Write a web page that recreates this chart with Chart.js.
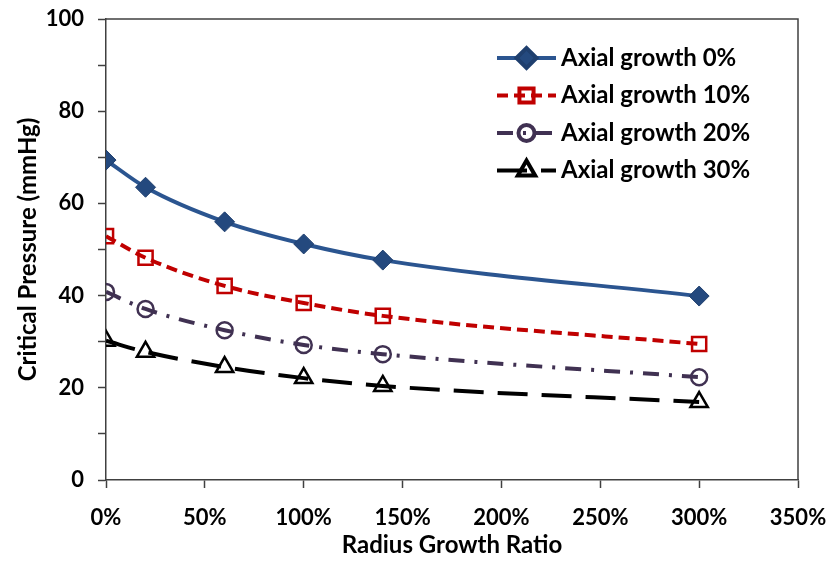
<!DOCTYPE html>
<html>
<head>
<meta charset="utf-8">
<title>Critical Pressure vs Radius Growth Ratio</title>
<script src="https://cdn.jsdelivr.net/npm/chart.js@4/dist/chart.umd.min.js"></script>
<style>
  html, body { margin: 0; padding: 0; background: #fff; }
  #grafico { display: block; }
</style>
</head>
<body>
<canvas id="grafico" width="830" height="562"></canvas>
<script>
// --- 1. DATI ---
const radiusGrowth = [0, 20, 60, 100, 140, 300]; // percentuale
const axial0  = [69.4, 63.5, 56.0, 51.2, 47.7, 39.9];
const axial10 = [52.9, 48.2, 42.1, 38.4, 35.6, 29.5];
const axial20 = [40.8, 37.1, 32.5, 29.3, 27.3, 22.3];
const axial30 = [30.2, 27.8, 24.5, 22.1, 20.4, 16.9];
const seriesLabels = ['Axial growth 0%', 'Axial growth 10%', 'Axial growth 20%', 'Axial growth 30%'];
const xTicks = [0, 50, 100, 150, 200, 250, 300, 350];
const yTicks = [0, 20, 40, 60, 80, 100];

const FONT = "Lato, 'Open Sans', sans-serif";

function punti(valori) {
  return radiusGrowth.map((x, i) => ({ x: x, y: valori[i] }));
}

// --- 2. PLUGIN: cornice + legenda dentro il grafico ---
const cornice = {
  id: 'cornice',
  beforeDatasetsDraw(chart) {
    const { ctx, chartArea: a } = chart;
    ctx.save();
    ctx.strokeStyle = '#404040';
    ctx.lineWidth = 1.5;
    ctx.beginPath();
    ctx.moveTo(a.left, a.top);
    ctx.lineTo(a.right, a.top);
    ctx.lineTo(a.right, a.bottom);
    ctx.stroke();
    ctx.restore();
  }
};

const legendaInterna = {
  id: 'legendaInterna',
  afterDraw(chart) {
    const { ctx, chartArea: a } = chart;
    const x0 = a.left + 391;
    const x1 = x0 + 59;
    ctx.save();
    chart.data.datasets.forEach((ds, i) => {
      const y = a.top + 39 + i * 37.5;
      // linea campione
      ctx.strokeStyle = ds.borderColor;
      ctx.lineWidth = ds.borderWidth;
      ctx.setLineDash(ds.borderDash || []);
      ctx.beginPath();
      ctx.moveTo(x0, y);
      ctx.lineTo(x1, y);
      ctx.stroke();
      ctx.setLineDash([]);
      // marcatore
      ctx.fillStyle = ds.pointBackgroundColor;
      ctx.strokeStyle = ds.pointBorderColor;
      Chart.helpers.drawPoint(ctx, {
        pointStyle: ds.pointStyle,
        radius: ds.pointRadius,
        rotation: 0,
        borderWidth: ds.pointBorderWidth
      }, (x0 + x1) / 2, y);
      // testo
      ctx.fillStyle = '#000';
      ctx.font = 'bold 24px ' + FONT;
      ctx.textBaseline = 'middle';
      ctx.textAlign = 'left';
      ctx.fillText(ds.label, x1 + 5, y);
    });
    ctx.restore();
  }
};

// --- 3. GRAFICO ---
const ctx = document.getElementById('grafico').getContext('2d');
new Chart(ctx, {
  type: 'line',
  data: {
    datasets: [
      {
        label: seriesLabels[0],
        data: punti(axial0),
        borderColor: '#2B5590',
        borderWidth: 4,
        pointStyle: 'rectRot',
        pointRadius: 10,
        pointBackgroundColor: '#24497E',
        pointBorderColor: '#1F3F6E',
        pointBorderWidth: 1
      },
      {
        label: seriesLabels[1],
        data: punti(axial10),
        borderColor: '#C00000',
        borderWidth: 4,
        borderDash: [11, 6],
        pointStyle: 'rect',
        pointRadius: 10,
        pointBackgroundColor: 'rgba(0,0,0,0)',
        pointBorderColor: '#C00000',
        pointBorderWidth: 2.5
      },
      {
        label: seriesLabels[2],
        data: punti(axial20),
        borderColor: '#403152',
        borderWidth: 4,
        borderDash: [16, 10, 3, 10],
        pointStyle: 'circle',
        pointRadius: 8,
        pointBackgroundColor: 'rgba(0,0,0,0)',
        pointBorderColor: '#403152',
        pointBorderWidth: 2.5
      },
      {
        label: seriesLabels[3],
        data: punti(axial30),
        borderColor: '#000000',
        borderWidth: 4,
        borderDash: [30, 14],
        pointStyle: 'triangle',
        pointRadius: 10,
        pointBackgroundColor: 'rgba(0,0,0,0)',
        pointBorderColor: '#000000',
        pointBorderWidth: 2.5
      }
    ]
  },
  options: {
    responsive: false,
    animation: false,
    cubicInterpolationMode: 'monotone',
    layout: { padding: { top: 19, right: 32, left: 0, bottom: 0 } },
    plugins: {
      legend: { display: false },
      tooltip: { enabled: false }
    },
    scales: {
      x: {
        type: 'linear',
        min: 0,
        max: 350,
        afterBuildTicks: axis => { axis.ticks = xTicks.map(v => ({ value: v })); },
        afterFit: axis => { axis.height = 82; axis.paddingLeft = 0; axis.paddingRight = 0; },
        border: { color: '#404040', width: 1.5 },
        grid: { drawOnChartArea: false, drawTicks: true, tickLength: 8, tickColor: '#404040', tickWidth: 1.5 },
        ticks: {
          padding: 17,
          color: '#000',
          font: { family: FONT, size: 22, weight: 'bold' },
          maxRotation: 0,
          callback: v => v + '%'
        },
        title: {
          display: true,
          text: 'Radius Growth Ratio',
          color: '#000',
          font: { family: FONT, size: 24, weight: 'bold' },
          padding: { top: 0, bottom: 2 }
        }
      },
      y: {
        min: 0,
        max: 100,
        afterFit: axis => { axis.width = 106; axis.paddingTop = 0; axis.paddingBottom = 0; },
        border: { color: '#404040', width: 1.5 },
        grid: { drawOnChartArea: false, drawTicks: true, tickLength: 8, tickColor: '#404040', tickWidth: 1.5 },
        ticks: {
          stepSize: 10,
          padding: 14,
          color: '#000',
          font: { family: FONT, size: 22, weight: 'bold' },
          callback: v => (yTicks.includes(v) ? v : '')
        },
        title: {
          display: true,
          text: 'Critical Pressure (mmHg)',
          color: '#000',
          font: { family: FONT, size: 24, weight: 'bold' },
          padding: { top: 14, bottom: 0 }
        }
      }
    }
  },
  plugins: [cornice, legendaInterna]
});
</script>
</body>
</html>
